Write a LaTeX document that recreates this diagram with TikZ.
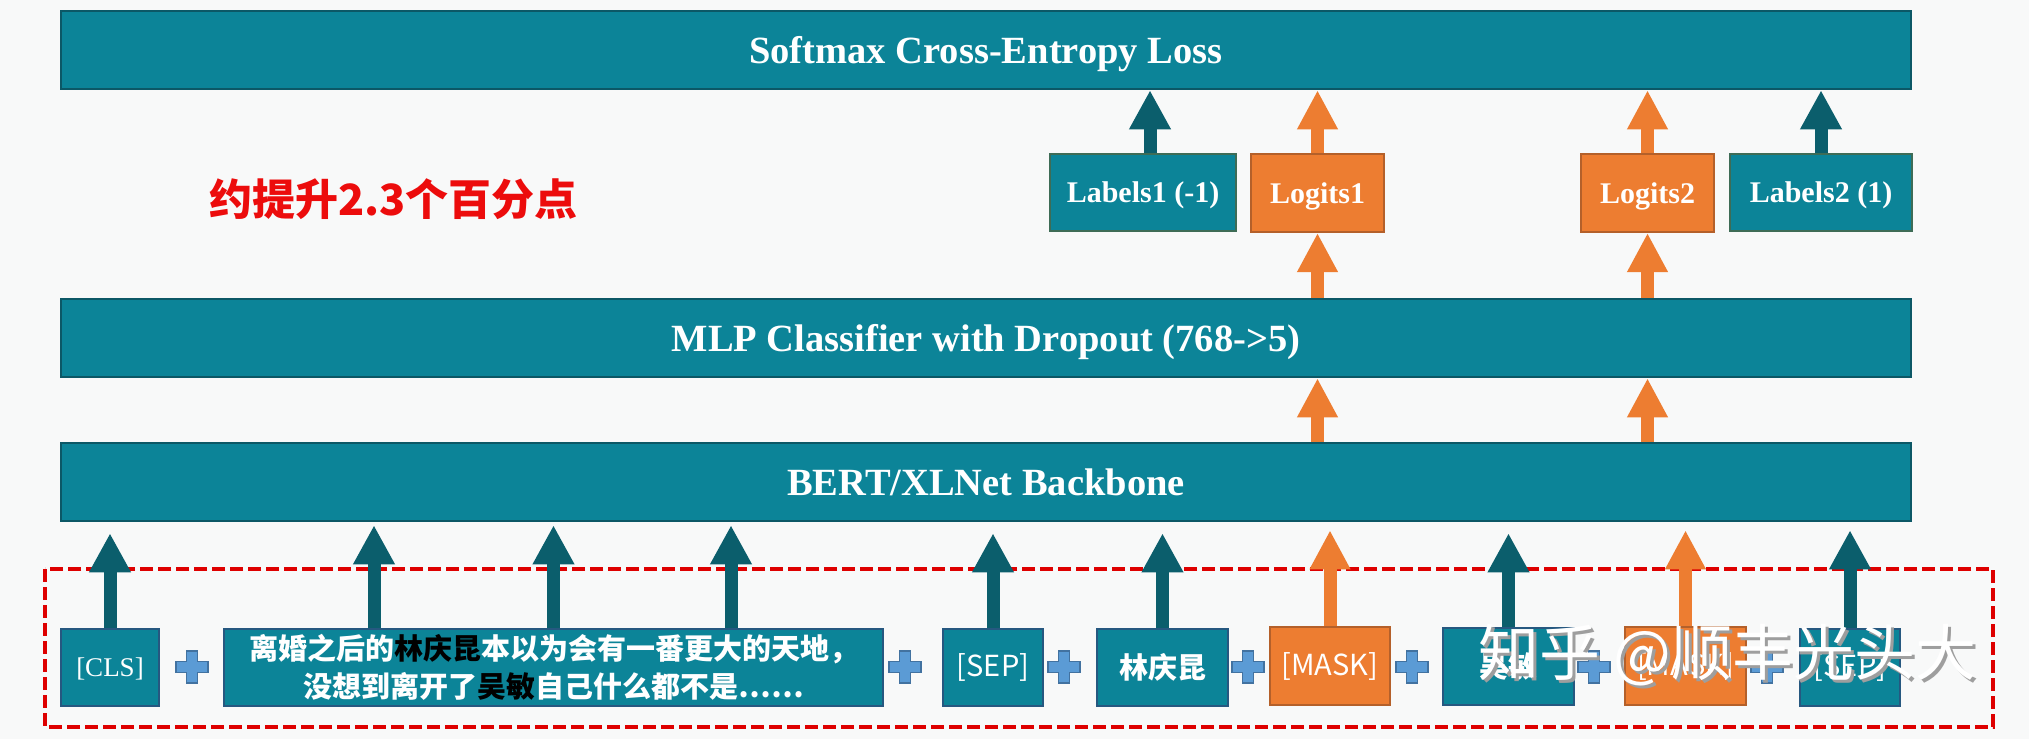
\documentclass[tikz,border=0pt]{standalone}
\usepackage{fontspec}
\setmainfont{Liberation Serif}
\newfontfamily\cjk{Noto Sans CJK SC}
\usetikzlibrary{arrows.meta}
\definecolor{bgc}{RGB}{248,249,249}
\definecolor{tealf}{RGB}{12,132,152}
\definecolor{tealb}{RGB}{12,88,102}
\definecolor{teala}{RGB}{11,94,108}
\definecolor{orf}{RGB}{237,125,49}
\definecolor{orb}{RGB}{180,96,42}
\definecolor{tokb}{RGB}{38,88,128}
\definecolor{labb}{RGB}{62,108,86}
\definecolor{plusf}{RGB}{91,155,213}
\definecolor{plusb}{RGB}{66,114,160}
\definecolor{redt}{RGB}{236,12,12}
\definecolor{dashr}{RGB}{222,0,0}
\newcommand{\plusmark}[2]{\filldraw[draw=plusb,fill=plusf,line width=1.2pt,shift={(#1,#2)}]
  (-16,-5.5) -- (-5.5,-5.5) -- (-5.5,-16) -- (5.5,-16) -- (5.5,-5.5) -- (16,-5.5) -- (16,5.5) -- (5.5,5.5) -- (5.5,16) -- (-5.5,16) -- (-5.5,5.5) -- (-16,5.5) -- cycle;}
\begin{document}
\begin{tikzpicture}[x=1pt,y=-1pt,
  bigbox/.style={draw=tealb, line width=2.5pt, fill=tealf, minimum width=1850pt, minimum height=78pt, inner sep=0pt, text=white, text height=26pt, text depth=0pt, font=\fontsize{38.5}{46}\selectfont\bfseries},
  labbox/.style={draw=labb, line width=2pt, fill=tealf, minimum height=77pt, inner sep=0pt, text=white, text height=20pt, text depth=0pt, font=\fontsize{30}{36}\selectfont\bfseries},
  logbox/.style={draw=orb, line width=2pt, fill=orf, minimum height=78pt, inner sep=0pt, text=white, text height=20pt, text depth=0pt, font=\fontsize{30}{36}\selectfont\bfseries},
  tokbox/.style={draw=tokb, line width=2pt, fill=tealf, minimum height=77pt, inner sep=0pt, text=white},
  maskbox/.style={draw=orb, line width=2pt, fill=orf, minimum height=78pt, inner sep=0pt, text=white},
  sanstok/.style={font=\cjk\fontsize{29}{35}\selectfont},
  cjkbold/.style={font=\cjk\bfseries\fontsize{29}{38}\selectfont},
  tealarr/.style={draw=teala, line width=13pt, -{Triangle[width=39pt,length=39pt]}},
  orarr/.style={draw=orf, line width=13pt, -{Triangle[width=38pt,length=39pt]}},
  wmfont/.style={font=\cjk\fontsize{61}{64}\selectfont, anchor=west, inner sep=0pt}
]
\fill[bgc] (0,0) rectangle (2029,739);
\useasboundingbox (0,0) rectangle (2029,739);

% main blocks
\node[bigbox] (soft) at (986,50) {Softmax Cross-Entropy Loss};
\node[bigbox] (mlp) at (986,338) {MLP Classifier with Dropout (768->5)};
\node[bigbox] (bert) at (986,482) {BERT/XLNet Backbone};

% labels and logits
\node[labbox, minimum width=186pt] (lab1) at (1143,192.5) {Labels1 (-1)};
\node[logbox, minimum width=133pt] (log1) at (1317.5,193) {Logits1};
\node[logbox, minimum width=133pt] (log2) at (1647.5,193) {Logits2};
\node[labbox, minimum width=182pt] (lab2) at (1821,192.5) {Labels2 (1)};

% red note
\node[anchor=west, inner sep=0pt, text=redt, font=\cjk\bfseries\fontsize{43}{48}\selectfont] (gain) at (209,199) {约提升2.3个百分点};

% dashed input frame
\draw[dashr, line width=4pt, dash pattern=on 13pt off 5pt] (45,569) rectangle (1993,727);

% tokens
\node[tokbox, minimum width=98pt, font=\fontsize{27}{32}\selectfont, text height=18pt, text depth=0pt] (cls) at (110,667.5) {[CLS]};
\node[tokbox, minimum width=659pt, align=center, cjkbold] (sent) at (553.5,667.5) {离婚之后的\textcolor{black}{林庆昆}本以为会有一番更大的天地，\\没想到离开了\textcolor{black}{吴敏}自己什么都不是……};
\node[tokbox, minimum width=100pt, sanstok] (sep1) at (993,667.5) {[SEP]};
\node[tokbox, minimum width=131pt, cjkbold] (lin) at (1162.5,667.5) {林庆昆};
\node[maskbox, minimum width=120pt, sanstok] (mask1) at (1330,666) {[MASK]};
\node[tokbox, minimum width=131pt, cjkbold] (wu) at (1508.5,666.5) {吴敏};
\node[maskbox, minimum width=121pt, sanstok] (mask2) at (1685.5,666) {[MASK]};
\node[tokbox, minimum width=100pt, sanstok] (sep2) at (1850,667) {[SEP]};

% plus signs
\plusmark{192}{667}
\plusmark{905}{667}
\plusmark{1064}{667}
\plusmark{1248}{667}
\plusmark{1412}{667}
\plusmark{1594}{667}
\plusmark{1767}{667}

% arrows: top
\draw[tealarr] ([xshift=7pt]lab1.north) -- ([xshift=7pt]lab1.north |- soft.south);
\draw[orarr] (log1.north) -- (log1.north |- soft.south);
\draw[orarr] (log2.north) -- (log2.north |- soft.south);
\draw[tealarr] (lab2.north) -- (lab2.north |- soft.south);
% mlp -> logits
\draw[orarr] (log1.south |- mlp.north) -- (log1.south);
\draw[orarr] (log2.south |- mlp.north) -- (log2.south);
% bert -> mlp
\draw[orarr] (log1.south |- bert.north) -- (log1.south |- mlp.south);
\draw[orarr] (log2.south |- bert.north) -- (log2.south |- mlp.south);

% tokens -> bert
\draw[tealarr] (cls.north) -- ([yshift=-11pt]cls.north |- bert.south);
\draw[tealarr] ([xshift=-179.5pt]sent.north) -- ([xshift=-179.5pt,yshift=-3pt]sent.north |- bert.south);
\draw[tealarr] (sent.north) -- ([yshift=-3pt]sent.north |- bert.south);
\draw[tealarr] ([xshift=177.5pt]sent.north) -- ([xshift=177.5pt,yshift=-3pt]sent.north |- bert.south);
\draw[tealarr] (sep1.north) -- ([yshift=-11pt]sep1.north |- bert.south);
\draw[tealarr] (lin.north) -- ([yshift=-11pt]lin.north |- bert.south);
\draw[orarr] (mask1.north) -- ([yshift=-8pt]mask1.north |- bert.south);
\draw[tealarr] (wu.north) -- ([yshift=-11pt]wu.north |- bert.south);
\draw[orarr] (mask2.north) -- ([yshift=-8pt]mask2.north |- bert.south);
\draw[tealarr] (sep2.north) -- ([yshift=-8pt]sep2.north |- bert.south);

% watermark
\node[wmfont, text=black!38] (wmshadow) at (1481,658) {知乎 @顺丰光头大};
\node[wmfont, text=white] (wm) at (1478,655) {知乎 @顺丰光头大};
\end{tikzpicture}
\end{document}
